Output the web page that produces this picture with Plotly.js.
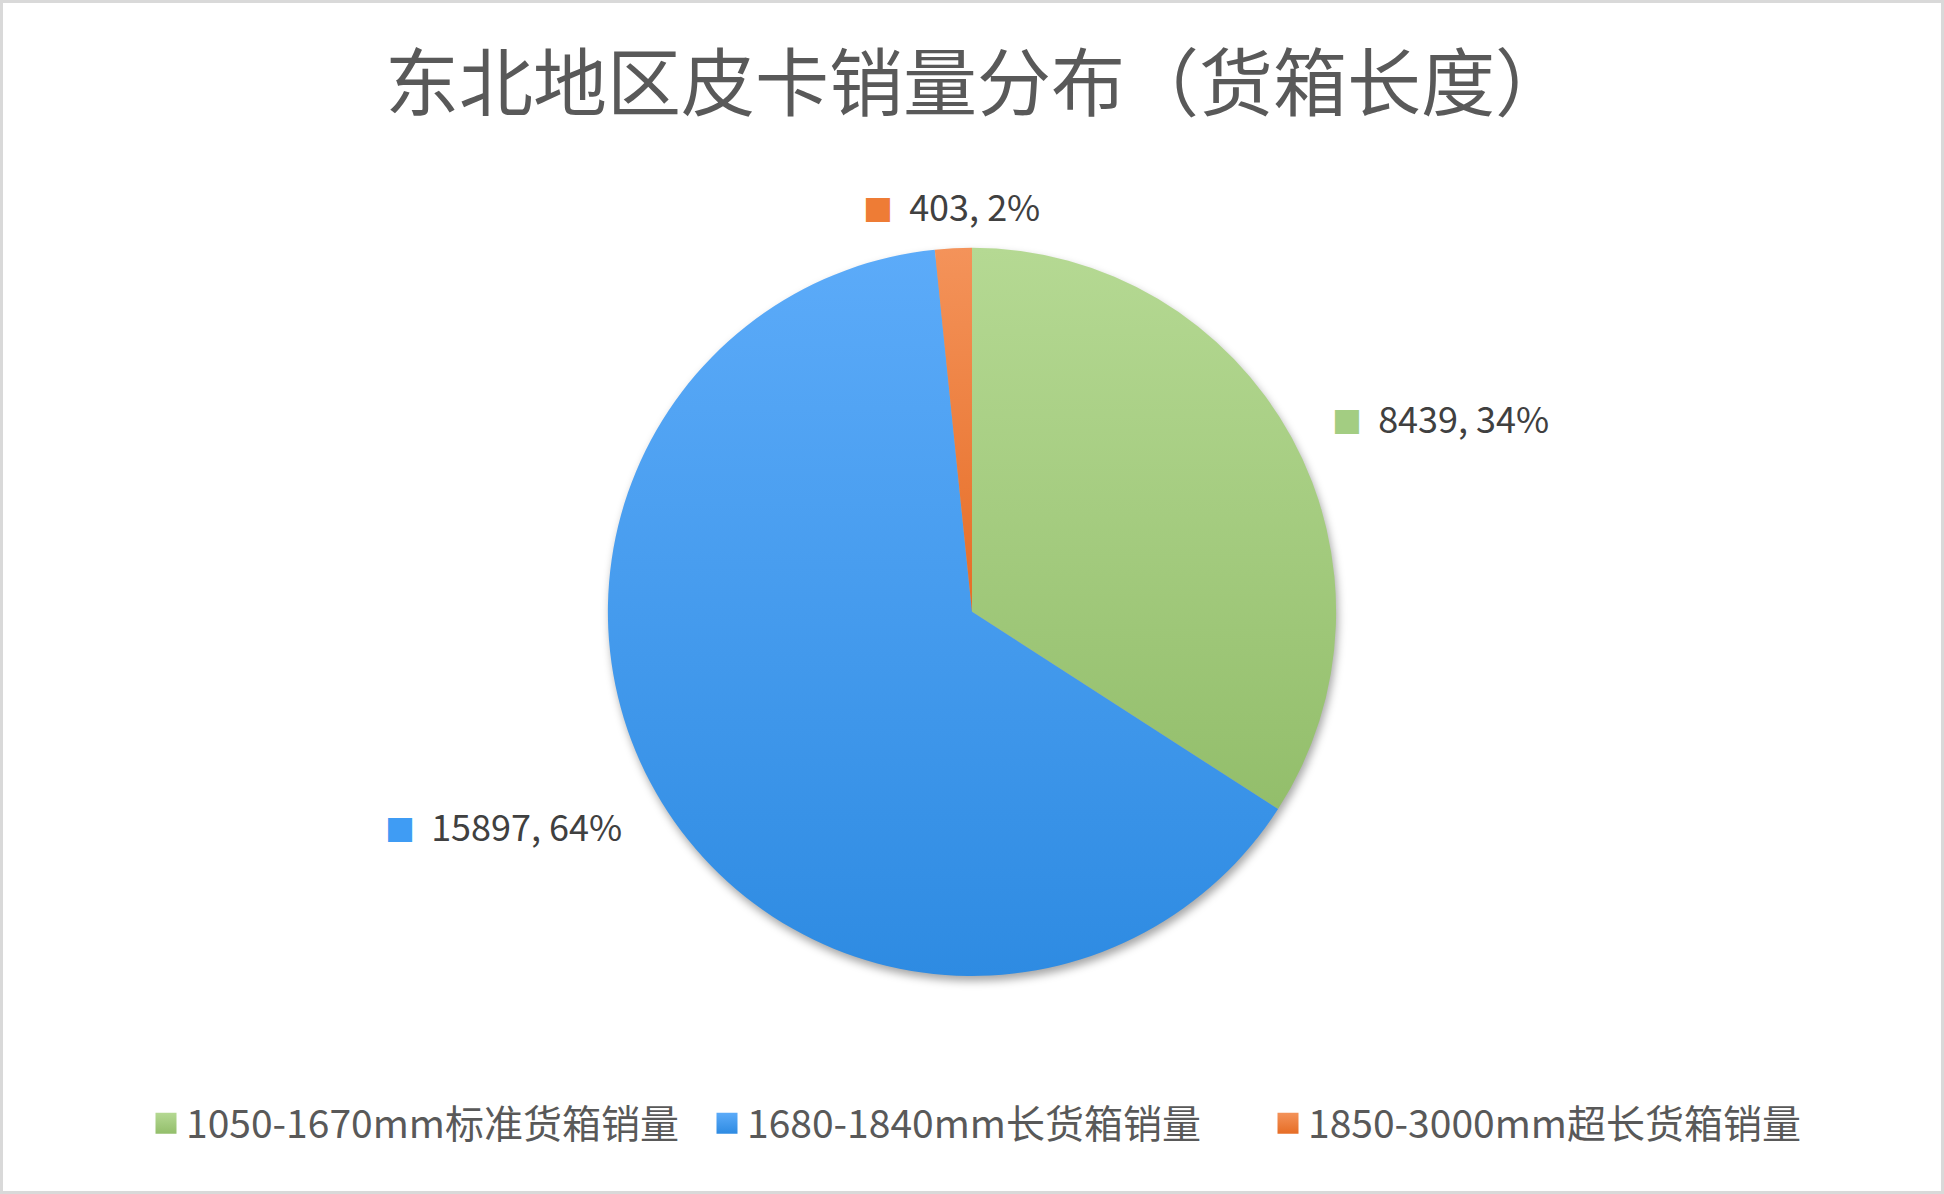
<!DOCTYPE html>
<html>
<head>
<meta charset="utf-8">
<script src="https://cdn.plot.ly/plotly-3.0.1.min.js"></script>
<style>
  html, body { margin: 0; padding: 0; background: #ffffff; }
  #chart { width: 1944px; height: 1194px; box-sizing: border-box; border: 3px solid #d9d9d9; }
  /* soft shadow under the pie, as in the office chart */
  #chart .pielayer .trace { filter: drop-shadow(2px 5px 4px rgba(0, 0, 0, 0.35)); }
</style>
</head>
<body>
<div id="chart"></div>
<script>
// 东北地区皮卡销量分布（货箱长度）
const categories = ['1050-1670mm标准货箱销量', '1680-1840mm长货箱销量', '1850-3000mm超长货箱销量'];
const sales = [8439, 15897, 403];
const sliceColors = ['#a3cd82', '#3f9cf4', '#ee7c35'];
// top / bottom of each slice's gradient
const gradTop = ['#b5d993', '#5cabf9', '#f4935a'];
const gradBottom = ['#93be6b', '#2e8be2', '#e66d26'];

const CJK = '"Noto Sans CJK SC", "Noto Sans", sans-serif';
const W = 1938, H = 1188;

const pieDomain = { x: [0.3117, 0.6883], y: [0.181, 0.794] };
const labelReach = 1.12;   // label distance, in pie radii

// place the "■ value, pct" labels on each slice's mid-angle, a bit off the rim
function sliceLabels() {
  const total = sales.reduce((a, b) => a + b, 0);
  const cx = (pieDomain.x[0] + pieDomain.x[1]) / 2;
  const cy = (pieDomain.y[0] + pieDomain.y[1]) / 2;
  const R = Math.min((pieDomain.x[1] - pieDomain.x[0]) * W, (pieDomain.y[1] - pieDomain.y[0]) * H) / 2;
  let cum = 0;
  return sales.map((v, i) => {
    const mid = (cum + v / 2) / total * 2 * Math.PI;
    cum += v;
    const dx = Math.sin(mid), dy = Math.cos(mid);
    return {
      xref: 'paper', yref: 'paper',
      x: cx + R * labelReach * dx / W,
      y: cy + R * labelReach * dy / H,
      xanchor: Math.abs(dx) < 0.3 ? 'center' : (dx > 0 ? 'left' : 'right'),
      yanchor: 'middle',
      showarrow: false,
      text: `<span style="color:${sliceColors[i]};font-size:30px">■</span>  ${v}, ${Math.round(v / total * 100)}%`,
      font: { family: CJK, size: 36, color: '#404040' },
    };
  });
}

const pieTrace = {
  type: 'pie',
  labels: categories,
  values: sales,
  sort: false,
  direction: 'clockwise',
  rotation: 0,
  marker: { colors: sliceColors, line: { color: '#ffffff', width: 0 } },
  textinfo: 'none',
  hoverinfo: 'label+value+percent',
  domain: pieDomain,
  automargin: false,
};

const layout = {
  width: W,
  height: H,
  paper_bgcolor: '#ffffff',
  margin: { l: 0, r: 0, t: 0, b: 0 },
  title: {
    text: '东北地区皮卡销量分布（货箱长度）',
    font: { family: CJK, size: 74, color: '#595959' },
    x: 0.5026, xanchor: 'center',
    y: 0.932, yanchor: 'middle',
  },
  annotations: sliceLabels(),
  showlegend: true,
  legend: {
    orientation: 'h',
    x: 0.508, xanchor: 'center',
    y: 0.057, yanchor: 'middle',
    font: { family: CJK, size: 39, color: '#595959' },
    itemwidth: 30,
    entrywidth: 516,
    entrywidthmode: 'pixels',
    traceorder: 'normal',
  },
};

function addGradients(gd) {
  const NS = 'http://www.w3.org/2000/svg';
  const svg = gd.querySelector('svg.main-svg');
  let defs = svg.querySelector('defs');
  if (!defs) { defs = document.createElementNS(NS, 'defs'); svg.prepend(defs); }
  gradTop.forEach((top, i) => {
    const g = document.createElementNS(NS, 'linearGradient');
    g.setAttribute('id', 'slicegrad' + i);
    g.setAttribute('x1', '0'); g.setAttribute('y1', '0');
    g.setAttribute('x2', '0'); g.setAttribute('y2', '1');
    [[0, top], [1, gradBottom[i]]].forEach(([off, col]) => {
      const s = document.createElementNS(NS, 'stop');
      s.setAttribute('offset', off);
      s.setAttribute('stop-color', col);
      g.appendChild(s);
    });
    defs.appendChild(g);
  });
  gd.querySelectorAll('.pielayer .slice path.surface').forEach((p, i) => {
    p.style.fill = `url(#slicegrad${i})`;
  });
  // bigger legend keys, same shading
  gd.querySelectorAll('.legendpoints path.legendpie').forEach((p, i) => {
    const t = p.getAttribute('transform') || '';
    p.setAttribute('transform', t + ' scale(1.75)');
    p.style.fill = `url(#slicegrad${i})`;
  });
}

Plotly.newPlot('chart', [pieTrace], layout, { displayModeBar: false, responsive: false })
  .then(addGradients);
</script>
</body>
</html>
